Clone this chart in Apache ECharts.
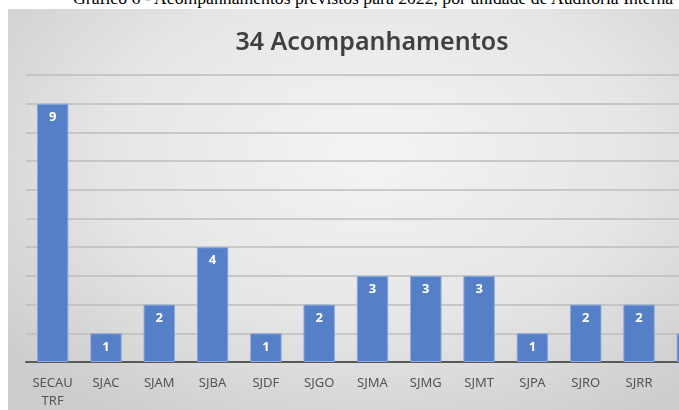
<!DOCTYPE html>
<html>
<head>
<meta charset="utf-8">
<script src="https://cdn.jsdelivr.net/npm/echarts@6/dist/echarts.min.js"></script>
<style>
  body { margin: 0; width: 679px; height: 410px; overflow: hidden; background: #fff; position: relative; }
  #legenda { position: absolute; left: 73px; top: -10px; white-space: nowrap; font-family: "Liberation Serif", serif; font-size: 17.7px; line-height: 17px; color: #000; }
  #grafico { position: absolute; left: 8px; top: 9px; width: 728px; height: 410px;
    background: radial-gradient(ellipse 65% 75% at 50% 35%, #f4f4f4 0%, #e6e6e6 55%, #cdcdcd 100%); }
</style>
</head>
<body>
<div id="legenda">Gráfico 6 - Acompanhamentos previstos para 2022, por unidade de Auditoria Interna</div>
<div id="grafico"></div>
<script>
// unidades de auditoria e acompanhamentos previstos
var unidades = ['SECAU\nTRF', 'SJAC', 'SJAM', 'SJBA', 'SJDF', 'SJGO', 'SJMA', 'SJMG', 'SJMT', 'SJPA', 'SJRO', 'SJRR', 'SJTO'];
var acompanhamentos = [9, 1, 2, 4, 1, 2, 3, 3, 3, 1, 2, 2, 1];
var titulo = '34 Acompanhamentos';

var myChart = echarts.init(document.getElementById('grafico'));
myChart.setOption({
  backgroundColor: 'transparent',
  animation: false,
  title: {
    text: titulo,
    left: 'center',
    top: 16,
    textStyle: { fontFamily: 'Noto Sans', fontSize: 25, fontWeight: 600, color: '#404040' }
  },
  grid: { left: 18, right: 17, top: 66, bottom: 57 },
  xAxis: {
    type: 'category',
    data: unidades,
    axisTick: { show: false },
    axisLine: { lineStyle: { color: '#595959', width: 2 } },
    axisLabel: { interval: 0, showMinLabel: true, showMaxLabel: true, hideOverlap: false, margin: 12,
      fontFamily: 'Noto Sans', fontSize: 13, color: '#555', lineHeight: 18 }
  },
  yAxis: {
    type: 'value',
    min: 0,
    max: 10,
    interval: 1,
    axisLabel: { show: false },
    axisLine: { show: false },
    axisTick: { show: false },
    splitLine: { lineStyle: { color: '#bdbdbd', width: 1.5 } }
  },
  series: [{
    type: 'bar',
    data: acompanhamentos,
    barCategoryGap: '41%',
    itemStyle: { color: '#5580c8', borderColor: '#8fa9dc', borderWidth: 1 },
    label: {
      show: true,
      position: 'insideTop',
      distance: 7,
      fontFamily: 'Noto Sans',
      fontSize: 13,
      fontWeight: 'bold',
      color: '#fff'
    }
  }]
});
</script>
</body>
</html>
